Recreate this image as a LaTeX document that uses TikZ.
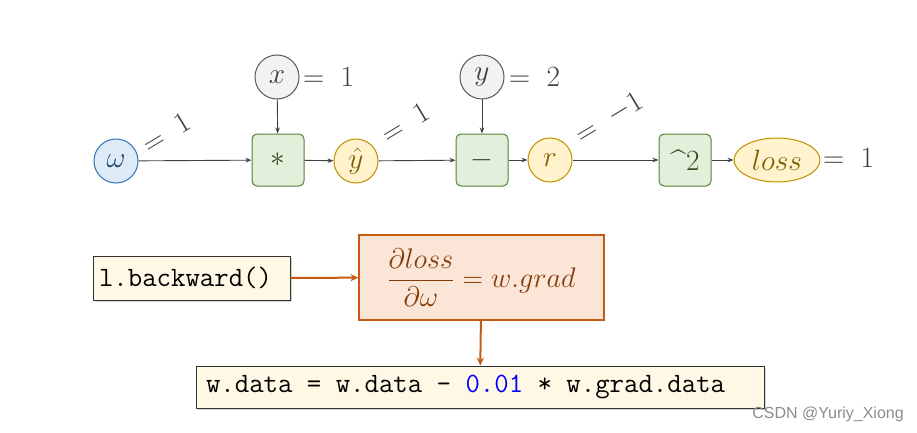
\documentclass[tikz,border=0pt]{standalone}
\usepackage{amsmath}
\usepackage{graphicx}
\usepackage{fontspec}
\newfontfamily\wmfont{Liberation Sans}
\newcommand\mzz[1]{\scalebox{1.18}{#1}}
\usetikzlibrary{shadows,arrows.meta,shapes.geometric}
\definecolor{wfill}{HTML}{DEEBF7}
\definecolor{wline}{HTML}{2E75B6}
\definecolor{gfill}{HTML}{F2F2F2}
\definecolor{gline}{HTML}{595959}
\definecolor{opfill}{HTML}{E2EFDA}
\definecolor{opline}{HTML}{548235}
\definecolor{yfill}{HTML}{FFF2CC}
\definecolor{yline}{HTML}{BF9000}
\definecolor{ytext}{HTML}{7F6000}
\definecolor{orfill}{HTML}{FBE5D6}
\definecolor{orline}{HTML}{C55A11}
\definecolor{ortext}{HTML}{843C0C}
\definecolor{codefill}{HTML}{FFF8E5}
\definecolor{txt}{HTML}{404040}
\definecolor{blu}{HTML}{0000FF}
\begin{document}
\begin{tikzpicture}[x=1pt,y=-1pt,
  bigfont/.style={font=\fontsize{24}{28}\selectfont},
  varnode/.style={circle,draw,line width=1pt,minimum size=44pt,inner sep=0pt,bigfont},
  wnode/.style={varnode,fill=wfill,draw=wline,text=wline!60!black},
  inode/.style={varnode,fill=gfill,draw=gline,text=txt},
  ynode/.style={varnode,fill=yfill,draw=yline,text=ytext},
  opnode/.style={rectangle,rounded corners=5pt,draw=opline,fill=opfill,line width=1pt,minimum size=52pt,inner sep=0pt,text=opline!60!black,bigfont},
  val/.style={text=txt,bigfont,inner sep=0pt},
  edge/.style={draw=txt,line width=0.9pt,-{Stealth[length=6pt,width=4.5pt]}},
  oredge/.style={draw=orline,line width=2pt,-{Stealth[length=8pt,width=7pt]}},
  codebox/.style={rectangle,draw=black!80,fill=codefill,line width=0.8pt,font=\ttfamily\fontsize{28}{32}\selectfont,inner sep=0pt,drop shadow={shadow xshift=2pt,shadow yshift=-2pt,opacity=0.35}}
]
\useasboundingbox (0,0) rectangle (917,433);
% top row
\node[wnode] (w) at (116,161) {\mzz{$\omega$}};
\node[inode] (x) at (277,77) {\mzz{$x$}};
\node[opnode] (mul) at (278,160) {\mzz{$*$}};
\node[ynode] (yh) at (356,161) {\mzz{$\hat{y}$}};
\node[inode] (y) at (482,77) {\mzz{$y$}};
\node[opnode] (sub) at (482,160) {\mzz{$-$}};
\node[ynode] (r) at (550,160) {\mzz{$r$}};
\node[opnode] (sq) at (685,160) {\mzz{\textasciicircum$2$}};
\node[ellipse,draw=yline,fill=yfill,line width=1pt,minimum width=86pt,minimum height=44pt,inner sep=0pt,text=ytext,bigfont] (loss) at (777,160) {\mzz{$loss$}};
% values
\node[val,anchor=west] (xv) at (303,77) {\mzz{$=\;1$}};
\node[val,anchor=west] (yv) at (509,77) {\mzz{$=\;2$}};
\node[val,anchor=west] (lv) at (823,158) {\mzz{$=\;1$}};
\node[val,rotate=31] (wv) at (166,133) {\mzz{$=\;1$}};
\node[val,rotate=31] (yhv) at (405,123) {\mzz{$=\;1$}};
\node[val,rotate=31] (rv) at (609,118) {\mzz{$=\;{-}1$}};
% edges
\draw[edge] (w) -- (mul);
\draw[edge] (x) -- (mul);
\draw[edge] (mul) -- (yh);
\draw[edge] (yh) -- (sub);
\draw[edge] (y) -- (sub);
\draw[edge] (sub) -- (r);
\draw[edge] (r) -- (sq);
\draw[edge] (sq) -- (loss);
% bottom
\node[codebox,minimum width=197pt,minimum height=44pt] (bw) at (191.5,278) {\makebox[185pt][l]{l.backward()}};
\node[rectangle,draw=orline,fill=orfill,line width=1.2pt,minimum width=245pt,minimum height=85pt,inner sep=0pt,text=ortext,font=\fontsize{24}{28}\selectfont] (grad) at (481.5,277.5) {\scalebox{1.14}{$\dfrac{\partial loss}{\partial\omega}=w.grad$}};
\node[codebox,minimum width=568pt,minimum height=42pt] (upd) at (480,387) {\makebox[548pt][l]{w.data = w.data - \textcolor{blu}{0.01} * w.grad.data}};
\draw[oredge] (bw) -- (grad);
\draw[oredge] (grad) -- (upd);
\node[text=black!45,font=\wmfont\fontsize{16}{18}\selectfont,inner sep=0pt] (wm) at (828,414) {CSDN @Yuriy\_Xiong};
\end{tikzpicture}
\end{document}
